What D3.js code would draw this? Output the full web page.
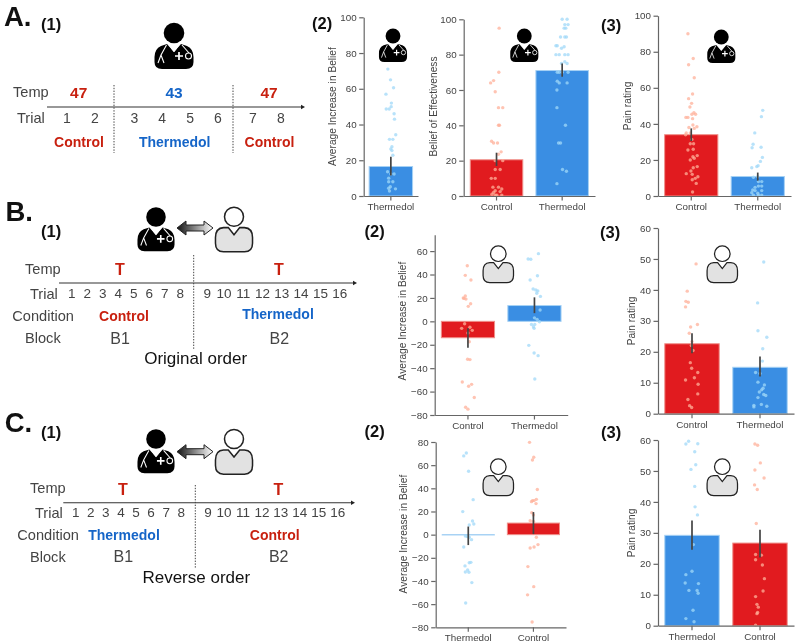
<!DOCTYPE html>
<html><head><meta charset="utf-8">
<script src="https://cdn.jsdelivr.net/npm/d3@7"></script>
<style>html,body{margin:0;padding:0;background:#fff}svg{display:block;filter:blur(0.3px)}text{font-family:"Liberation Sans",Arial,sans-serif}</style>
</head><body><div id="c"></div>
<script>
// ---- Values ----
const aCategoriesSingle = ["Thermedol"];
const orderControlFirst = ["Control", "Thermedol"];
const orderThermedolFirst = ["Thermedol", "Control"];

// A(2) average increase in belief
const a2IncreaseMean = [16.5], a2IncreaseErr = [[11.5, 22]];
const a2IncreaseVals = [71,65,60.6,57,52,50,48.7,48.7,46,43,34.3,31.7,31.7,27.6,26.3,25.4,22.8,12.3,12.3,13.6,10,8,8,5.2,4,4.3,2.8];
const a2IncreaseJit = [-5.5,-0.6,5,-9,1,0.6,-8.5,-3,6,6.7,9,-2.5,3.7,2,0,2,3.7,6,0,-6,-4,3.7,-4,-1,8.5,-4,-2.5];
// A(2) belief of effectiveness
const a2BeliefMean = [20.5, 71], a2BeliefErr = [[17, 24.5], [67.5, 75]];
const a2BeliefControl = [95,70,65.3,64,59,50,50,40,40,31,30,30,25,23.6,20,20,15,15,10,10,5,4,5,3,2.5,1,0.5,0.5,0.5,2];
const a2BeliefControlJit = [4,3.5,-4.5,-9,-2,3,9.5,3,4.5,-7.5,-4.5,1.5,7,3,-2,9.5,-2,5.5,-8,-2,3,8,-5.5,-2,5.5,-7,-2,8,0.5,-4.5];
const a2BeliefTherm = [100,100,97,97,95,95,90,90,90,85,85,83.6,84.5,80,80,80,80,76,75,75,70,70,70,70,65,64,64,60,50,40,30,30,15,14,7];
const a2BeliefThermJit = [0,7.5,4,9,3,5.5,-2.5,4,6.5,-9.5,-7.5,-1,3,-9.5,-4.5,4,9,4,7.5,-1,-7.5,-4.5,9,0,-7.5,-4.5,7.5,-8,-8,5,-5.5,-2.5,0.5,6.5,-8];
// A(3) pain
const a3Mean = [34, 10.8], a3Err = [[30.5, 37.5], [8.5, 13]];
const a3Control = [90,76.3,72.8,65.6,56.6,54,51.4,49.4,46.2,45.3,45.3,43.6,43.6,42.9,39.4,38.4,38,37.5,35,35,34,31.4,29,29,25.5,25.9,22.4,21.8,20.9,20,16.3,15.7,13.9,12.4,12,10.7,9.8,9,7,2.2];
const a3ControlJit = [-5,3,-4,4.5,2,-4,0.5,-2,4,6.5,1,-8,-5,2,2.5,8.5,-3.5,4.5,-7.5,-1.5,-8.5,1,-1.5,3.5,-5,3,9,2.5,4.5,-1.5,9,3,-0.5,-7.5,1.5,10,6,1.5,7.5,2];
const a3Therm = [47.5,44,35,28.7,26.8,27,21.4,19.2,16.8,15.7,16.3,10.4,10.7,8,8,5.5,5.5,4.8,3.3,3,3,1.8,1.5,0.5,0.5,0.5];
const a3ThermJit = [7.5,5.5,-4.5,-7,-8.5,5,7,4,0.5,-9,-1.5,-6.5,0,1,6,6,1,-4,-7.5,-4,6,-9,0,-6.5,6,1];
// B(2)
const b2Mean = [-14, 13.5], b2Err = [[-22.5, -6], [7, 20.5]];
const b2Control = [47.5,39.3,35.3,21.6,20,19,19.6,15,12.8,-2,-5,-6,-7.7,-10,-17.4,-32.4,-32.7,-51.8,-53.8,-55.5,-65,-73.4,-75];
const b2ControlJit = [-1,-4,4.5,-4,-7,-3,-6,4,0.5,-5,3,-9.5,6.5,0,2,-0.5,3,-8.5,5.5,1,9.5,-3.5,0];
const b2Therm = [57.8,53.2,53,35.3,39,27.6,26.8,26,24,21.3,9.7,3,1.7,-0.3,-2.6,-2.6,-4.6,-6,-20.5,-27,-29.3,-49.2];
const b2ThermJit = [6,-9.5,-5.5,-6.5,4.5,-2,2,5,3.5,9,8.5,0,4,7.5,-4.5,0.5,-1.5,-0.5,-8.5,-0.5,5.5,0.5];
// B(3)
const b3Mean = [22.6, 15], b3Err = [[19.5, 26], [12, 18.5]];
const b3Control = [48.4,39.6,36.3,36,34.5,28.8,28,26,23.3,22,20.4,16.5,14.7,13.3,11.6,10.9,9.5,6.4,4.6,2.6,2];
const b3ControlJit = [6,-7,-9,-5.5,-9.5,8,-2,-4,0,-1,1.5,-2.5,-0.5,8.5,3.5,-9.5,9,8.5,-6,-3.5,-0.5];
const b3Therm = [49,35.8,26.8,24.7,21,17,13.3,13,10.2,9.3,8.2,7.7,7,6.2,5.9,5.2,2.7,3,2.4,2.2];
const b3ThermJit = [5.5,-3.5,-3,10,4,3.5,-6.5,0,-3,6.5,4.5,2.5,-1,5.5,8.5,-3,-9,2,10,-9];
// C(2)
const c2Mean = [-0.3, 10], c2Err = [[-9, 7], [0.5, 19.5]];
const c2Therm = [70.5,68,54.7,30.2,19.9,11.8,9.2,8.3,-1.2,-1.7,-2.3,-4.3,-10.6,-23.9,-24.2,-27,-32.2,-30.5,-32.5,-41.4,-59];
const c2ThermJit = [-3,-7,0.5,7.5,-8.5,6.5,8.5,1.5,-4.5,-1.5,1.5,5,-7,4,1.5,-5,-4.5,-1,1,5.5,-4];
const c2Control = [79.7,66.8,64.5,39,29.4,29.4,30.5,28.5,26.8,19,17,12,11.5,-2.3,-8.6,-10.6,-11.5,-27.6,-44.9,-52,-75.4];
const c2ControlJit = [-6,0.5,-1.5,6,-1.5,1,4.5,-3,4,-2.5,0,-5,0,4.5,7,1,-5,-8.5,0.5,-9,-2];
// C(3)
const c3Mean = [29.2, 26.7], c3Err = [[24.5, 34], [22, 31]];
const c3Therm = [59.6,58.7,58.8,56.2,52,50.5,45,38.4,35.8,26.2,17.6,16.5,13.8,13.6,11.4,11.4,10.5,5,2.3,1.3];
const c3ThermJit = [-5,-9,8.5,4,5.5,-1.5,4,4.5,8,2,0,-9,-10,9.5,-4.5,7.5,9,1.5,-9,3];
const c3Control = [58.7,58.3,52.6,50.3,47.7,45.5,44,33,23,22.8,21.3,19.6,15.2,11.2,9.4,6.9,6,4.3,3.9,0.2];
const c3ControlJit = [-7.5,-3.5,0.5,-7.5,6,-8,-4,-5.5,-6.5,2,-6.5,3.5,6.5,4.5,-6.5,-4.5,-2.5,-3.5,-4.5,-6.5];

const ticks0to100 = [0,20,40,60,80,100];
const ticks0to60 = [0,10,20,30,40,50,60];
const ticksB2 = [-80,-60,-40,-20,0,20,40,60];
const ticksC2 = [-80,-60,-40,-20,0,20,40,60,80];

// ---- Layout ----
const RED="#e11b1f", BLUE="#3a8ee3", RED_TXT="#c8200f", BLUE_TXT="#1565c8", INK="#444";
const svg = d3.select("#c").append("svg").attr("width",798).attr("height",644);
const defs = svg.append("defs");
const grad = defs.append("linearGradient").attr("id","arrowGrad");
grad.append("stop").attr("offset","0").attr("stop-color","#111");
grad.append("stop").attr("offset","1").attr("stop-color","#fff");

const panels = [
 {cats:aCategoriesSingle, mean:a2IncreaseMean, err:a2IncreaseErr, pts:[[a2IncreaseVals,a2IncreaseJit]], x:[363.7,418], y:[196,17.3], dom:[0,100], ticks:ticks0to100, label:"Average Increase in Belief", lx:333, ly:106.5, kind:"doctor", ix:393, iy:36},
 {cats:orderControlFirst, mean:a2BeliefMean, err:a2BeliefErr, pts:[[a2BeliefControl,a2BeliefControlJit],[a2BeliefTherm,a2BeliefThermJit]], x:[463.7,595], y:[196,19.3], dom:[0,100], ticks:ticks0to100, label:"Belief of Effectiveness", lx:434.3, ly:106.5, kind:"doctor", ix:524.3, iy:36},
 {cats:orderControlFirst, mean:a3Mean, err:a3Err, pts:[[a3Control,a3ControlJit],[a3Therm,a3ThermJit]], x:[658,791], y:[196,15.7], dom:[0,100], ticks:ticks0to100, label:"Pain rating", lx:628, ly:106, kind:"doctor", ix:721.3, iy:37},
 {cats:orderControlFirst, mean:b2Mean, err:b2Err, pts:[[b2Control,b2ControlJit],[b2Therm,b2ThermJit]], x:[434.7,567.7], y:[415,234.7], dom:[-80,74], ticks:ticksB2, label:"Average Increase in Belief", lx:403.3, ly:321, kind:"patient", ix:498.3, iy:253.7},
 {cats:orderControlFirst, mean:b3Mean, err:b3Err, pts:[[b3Control,b3ControlJit],[b3Therm,b3ThermJit]], x:[658,794], y:[413.7,228], dom:[0,60], ticks:ticks0to60, label:"Pain rating", lx:632, ly:321, kind:"patient", ix:722.3, iy:253.7},
 {cats:orderThermedolFirst, mean:c2Mean, err:c2Err, pts:[[c2Therm,c2ThermJit],[c2Control,c2ControlJit]], x:[435.7,566], y:[627.3,442], dom:[-80,80], ticks:ticksC2, label:"Average Increase in Belief", lx:404, ly:534, kind:"patient", ix:498.3, iy:466.7},
 {cats:orderThermedolFirst, mean:c3Mean, err:c3Err, pts:[[c3Therm,c3ThermJit],[c3Control,c3ControlJit]], x:[658,794], y:[625.7,440], dom:[0,60], ticks:ticks0to60, label:"Pain rating", lx:632, ly:533, kind:"patient", ix:722.3, iy:466.7}
];

function drawPanel(p){
  const g = svg.append("g");
  const x = d3.scaleBand().domain(p.cats).range(p.x).paddingInner(0.2).paddingOuter(0.1);
  const y = d3.scaleLinear().domain(p.dom).range(p.y);
  const color = c => c==="Control"?RED:BLUE;
  g.selectAll("rect").data(p.cats).join("rect")
    .attr("x",c=>x(c)).attr("width",x.bandwidth())
    .attr("y",(c,i)=>Math.min(y(0),y(p.mean[i]))).attr("height",(c,i)=>Math.abs(y(0)-y(p.mean[i])))
    .attr("fill",color).attr("stroke",c=>c==="Control"?"#f0908a":"#a6d2f5").attr("stroke-width",1);
  p.cats.forEach((c,i)=>{
    const [vals,jit]=p.pts[i];
    const cx=x(c)+x.bandwidth()/2;
    g.append("g").selectAll("circle").data(vals).join("circle")
      .attr("cx",(v,k)=>cx+jit[k]/100*x.step()).attr("cy",v=>y(v)).attr("r",1.7)
      .attr("fill",c==="Control"?"#ffb09a":"#a0d8f8").attr("opacity",0.75);
    g.append("line").attr("x1",cx).attr("x2",cx).attr("y1",y(p.err[i][0])).attr("y2",y(p.err[i][1]))
      .attr("stroke","#444").attr("stroke-width",1.7);
  });
  const yAx=g.append("g").attr("transform",`translate(${p.x[0]},0)`)
    .call(d3.axisLeft(y).tickValues(p.ticks).tickSize(4.5).tickPadding(2.5).tickSizeOuter(0));
  const xAx=g.append("g").attr("transform",`translate(0,${p.y[0]})`)
    .call(d3.axisBottom(x).tickSize(4.5).tickPadding(2.5).tickSizeOuter(0));
  [yAx,xAx].forEach(a=>{
    a.selectAll("path,line").attr("stroke","#666").attr("stroke-width",1.2);
    a.selectAll("text").attr("fill",INK).style("font-size","9.8px").style("font-family",'"Liberation Sans",Arial,sans-serif');
  });
  g.append("text").attr("transform",`translate(${p.lx},${p.ly}) rotate(-90)`).attr("text-anchor","middle")
    .attr("dominant-baseline","middle").attr("fill",INK).style("font-size","10.2px").text(p.label);
  (p.kind==="doctor"?doctor:patient)(p.ix,p.iy,p.kind==="doctor"?0.72:0.78);
}

// Icons
function doctor(cx,cy,s){
  const g=svg.append("g").attr("transform",`translate(${cx},${cy}) scale(${s})`);
  g.append("circle").attr("r",10.3).attr("fill","#000");
  g.append("path").attr("fill","#000").attr("d","M-7,11 L-13,13 Q-19.5,16 -19.5,24 L-19.5,29 Q-19.5,36 -12,36 L12,36 Q19.5,36 19.5,29 L19.5,24 Q19.5,16 13,13 L7,11 L0,19 Z");
  const w=g.append("g").attr("fill","none").attr("stroke","#fff").attr("stroke-width",1.1);
  w.append("path").attr("d","M-7.5,12 L-13,22 L-16,30 M-13,22 L-10,30");
  w.append("path").attr("d","M8,12 L15,20");
  w.append("circle").attr("cx",14.5).attr("cy",23).attr("r",3);
  w.append("path").attr("stroke-width",1.7).attr("d","M1,23 H9 M5,19 V27");
  w.append("path").attr("stroke","#fff").attr("stroke-width",.7).attr("d","M-5,12 L0,19 L5,12");
}
function patient(cx,cy,s){
  const g=svg.append("g").attr("transform",`translate(${cx},${cy}) scale(${s})`);
  g.append("path").attr("fill","#e2e2e2").attr("stroke","#222").attr("stroke-width",1.6)
    .attr("d","M-6,11.5 L-11,11.5 Q-19.5,12 -19.5,22 L-19.5,28 Q-19.5,37 -11,37 L11,37 Q19.5,37 19.5,28 L19.5,22 Q19.5,12 11,11.5 L6,11.5 L0,19 Z");
  g.append("circle").attr("r",10).attr("fill","#fff").attr("stroke","#222").attr("stroke-width",1.6);
}
function dblArrow(x0,x1,y){
  const m=(x0+x1)/2, h=(x1-x0)/2;
  const pts=[[-h,0],[-h+9,-7],[-h+9,-3],[h-9,-3],[h-9,-7],[h,0],[h-9,7],[h-9,3],[-h+9,3],[-h+9,7]];
  svg.append("path").attr("transform",`translate(${m},${y})`).attr("d",d3.line()(pts)+"Z")
    .attr("fill","url(#arrowGrad)").attr("stroke","#222").attr("stroke-width",1);
}

// Text helper and schematic pieces
function txt(t,x,y,size,fill,anchor,weight){
  svg.append("text").attr("x",x).attr("y",y).attr("dominant-baseline","middle")
    .attr("text-anchor",anchor||"start").attr("fill",fill).style("font-size",size+"px")
    .style("font-weight",weight||"normal").text(t);
}
function panelTag(t,x,base,size){
  svg.append("text").attr("x",x).attr("y",base).attr("fill","#111").style("font-size",size+"px").style("font-weight","bold").text(t);
}
function timeline(o){
  svg.append("line").attr("x1",o.ax0).attr("x2",o.ax1-3).attr("y1",o.ay).attr("y2",o.ay).attr("stroke","#333").attr("stroke-width",1.1);
  svg.append("path").attr("d",`M${o.ax1},${o.ay} l-4,-2.2 v4.4 Z`).attr("fill","#222");
  o.dots.forEach(d=>svg.append("line").attr("x1",d).attr("x2",d).attr("y1",o.dy[0]).attr("y2",o.dy[1]).attr("stroke","#444").attr("stroke-width",1).attr("stroke-dasharray","1.4,1.4"));
  const tx=d3.scaleLinear().domain(o.trialDom).range(o.trialRange);
  o.trials.forEach(n=>txt(String(n),tx(n),o.ty,o.tsize,INK,"middle"));
}

// --- Panel A schematic ---
panelTag("A.",4,26,27.5); panelTag("(1)",41,30,16.5); panelTag("(2)",312,29,16.5); panelTag("(3)",601,30.5,16.5);
doctor(174,33,1);
txt("Temp",13,93.5,14.6,INK); txt("Trial",17,119.5,14.6,INK);
timeline({ax0:47,ax1:305,ay:107,dots:[114,233],dy:[85,153],trials:d3.range(1,9),trialDom:[1,2,3,6,7,8],trialRange:[67,95,134.3,218,253,281],ty:119.5,tsize:14});
[["47",78.7,RED_TXT],["43",174,BLUE_TXT],["47",269,RED_TXT]].forEach(d=>txt(d[0],d[1],93.5,15.5,d[2],"middle","bold"));
txt("Control",79,143.5,14,RED_TXT,"middle","bold"); txt("Thermedol",174.7,143.5,14,BLUE_TXT,"middle","bold"); txt("Control",269.5,143.5,14,RED_TXT,"middle","bold");

// --- Panel B schematic ---
panelTag("B.",5.5,221,27.5); panelTag("(1)",41,237,16.5); panelTag("(2)",364.5,236.5,16.5); panelTag("(3)",600,237.7,16.5);
doctor(156,217,0.95); patient(234,216.7,0.95); dblArrow(177,213,228);
txt("Temp",25,270.5,14.6,INK); txt("Trial",30,295.5,14.6,INK); txt("Condition",12.3,317.5,14.6,INK); txt("Block",25,339.5,14.6,INK);
timeline({ax0:59,ax1:357,ay:283,dots:[193.7],dy:[255,350],trials:d3.range(1,17),trialDom:[1,8,9,10,16],trialRange:[71.7,180.3,207.3,224,339.7],ty:294.5,tsize:13.5});
txt("T",120,270.5,16,RED_TXT,"middle","bold"); txt("T",279,270.5,16,RED_TXT,"middle","bold");
txt("Control",124,317.5,14,RED_TXT,"middle","bold"); txt("Thermedol",278,315.5,14,BLUE_TXT,"middle","bold");
txt("B1",120,339.5,16,INK,"middle"); txt("B2",279.3,339.5,16,INK,"middle");
txt("Original order",195.7,359.5,17,"#111","middle");

// --- Panel C schematic ---
panelTag("C.",4.7,432,27.5); panelTag("(1)",41,438,16.5); panelTag("(2)",364.5,436.5,16.5); panelTag("(3)",601,438,16.5);
doctor(156,439,0.95); patient(234,439,0.95); dblArrow(177,213,451.7);
txt("Temp",30,489.5,14.6,INK); txt("Trial",35,514.5,14.6,INK); txt("Condition",17.3,536,14.6,INK); txt("Block",30,558,14.6,INK);
timeline({ax0:63.3,ax1:355,ay:502.7,dots:[195.3],dy:[485,568],trials:d3.range(1,17),trialDom:[1,8,9,10,16],trialRange:[75.7,181.3,208,224,337.7],ty:513,tsize:13.5});
txt("T",123,490.5,16,RED_TXT,"middle","bold"); txt("T",278.3,490.5,16,RED_TXT,"middle","bold");
txt("Thermedol",124,536,14,BLUE_TXT,"middle","bold"); txt("Control",274.7,536,14,RED_TXT,"middle","bold");
txt("B1",123.3,558,16,INK,"middle"); txt("B2",278.7,558,16,INK,"middle");
txt("Reverse order",196.3,578.5,17,"#111","middle");

panels.forEach(drawPanel);
</script></body></html>
